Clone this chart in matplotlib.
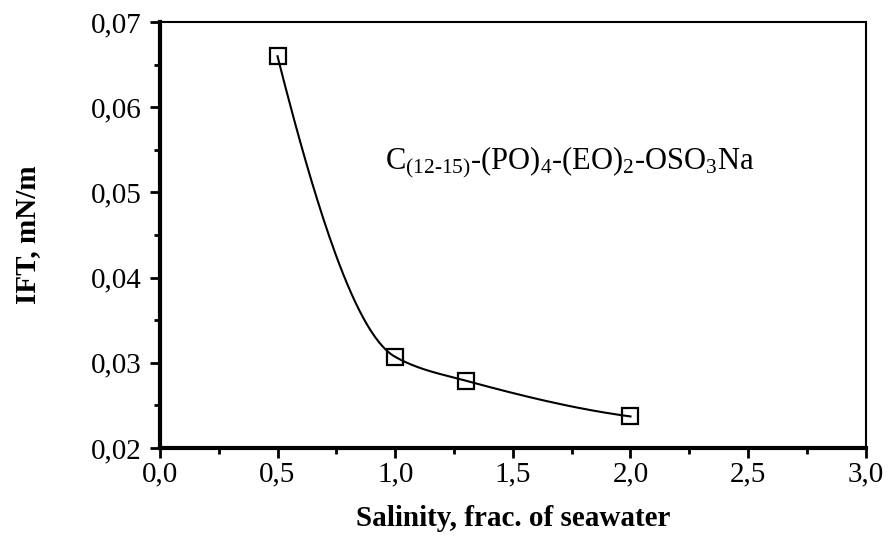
import matplotlib
matplotlib.use("Agg")
import matplotlib.pyplot as plt
import numpy as np

# data
salinity = [0.5, 1.0, 1.3, 2.0]
ift = [0.066, 0.0307, 0.0279, 0.0237]
xticks = [0.0, 0.5, 1.0, 1.5, 2.0, 2.5, 3.0]
yticks = [0.02, 0.03, 0.04, 0.05, 0.06, 0.07]

plt.rcParams['font.family'] = ['Liberation Serif', 'DejaVu Serif']
plt.rcParams['mathtext.fontset'] = 'custom'
plt.rcParams['mathtext.rm'] = 'Liberation Serif'


def smooth(x, y, n=60):
    # monotone cubic (Fritsch-Carlson) through the points
    x = np.asarray(x, float)
    y = np.asarray(y, float)
    h = np.diff(x)
    d = np.diff(y) / h
    m = np.zeros(len(x))
    for i in range(1, len(x)-1):
        if d[i-1]*d[i] > 0:
            w1 = 2*h[i] + h[i-1]
            w2 = h[i] + 2*h[i-1]
            m[i] = (w1 + w2) / (w1/d[i-1] + w2/d[i])
    m[0] = ((2*h[0] + h[1])*d[0] - h[0]*d[1]) / (h[0] + h[1])
    if m[0]*d[0] <= 0:
        m[0] = 0
    m[-1] = ((2*h[-1] + h[-2])*d[-1] - h[-1]*d[-2]) / (h[-1] + h[-2])
    if m[-1]*d[-1] <= 0:
        m[-1] = 0
    xs, ys = [], []
    for i in range(len(x)-1):
        t = np.linspace(0, 1, n)
        h00 = 2*t**3 - 3*t**2 + 1
        h10 = t**3 - 2*t**2 + t
        h01 = -2*t**3 + 3*t**2
        h11 = t**3 - t**2
        xs.extend(x[i] + t*h[i])
        ys.extend(h00*y[i] + h10*h[i]*m[i] + h01*y[i+1] + h11*h[i]*m[i+1])
    return xs, ys


fig = plt.figure(figsize=(8.88, 5.41), dpi=100)
ax = fig.add_axes([0.180, 0.172, 0.795, 0.787])

sx, sy = smooth(salinity, ift)
ax.plot(sx, sy, color='black', lw=1.5)
ax.plot(salinity, ift, linestyle='none', marker='s', markersize=12,
        markerfacecolor='none', markeredgecolor='black', markeredgewidth=1.6)

ax.set_xlim(0, 3.0)
ax.set_ylim(0.02, 0.07)
ax.set_xticks(xticks)
ax.set_yticks(yticks)
ax.set_xticklabels([("%.1f" % v).replace('.', ',') for v in xticks])
ax.set_yticklabels([("%.2f" % v).replace('.', ',') for v in yticks])
ax.set_xticks(np.arange(0.25, 3.0, 0.5), minor=True)
ax.set_yticks(np.arange(0.025, 0.07, 0.01), minor=True)
ax.tick_params(which='major', direction='out', length=7, width=2, labelsize=21, colors='black')
ax.tick_params(which='minor', direction='out', length=4, width=2)
ax.tick_params(axis='x', pad=3)
ax.tick_params(axis='y', pad=6)

ax.spines['left'].set_linewidth(3)
ax.spines['bottom'].set_linewidth(3)
ax.spines['top'].set_linewidth(1.5)
ax.spines['right'].set_linewidth(1.5)

ax.text(0.955, 0.0535, r'$\mathrm{C_{(12\text{-}15)}\text{-}(PO)_4\text{-}(EO)_2\text{-}OSO_3Na}$',
        fontsize=22, va='center', ha='left')

ax.set_xlabel('Salinity, frac. of seawater', fontsize=21, fontweight='bold', labelpad=12)
ax.set_ylabel('IFT, mN/m', fontsize=21, fontweight='bold', labelpad=36)

fig.savefig('out.png', dpi=100)
